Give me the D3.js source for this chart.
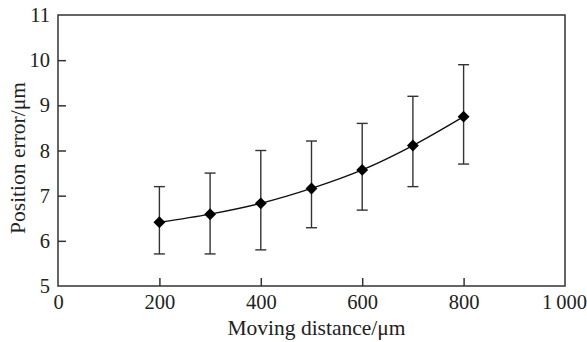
<!doctype html>
<html>
<head>
<meta charset="utf-8">
<script src="https://d3js.org/d3.v7.min.js"></script>
<style>
  body { margin: 0; background: #fff; }
  text { font-family: "Liberation Serif", "DejaVu Serif", serif; fill: #222; }
</style>
</head>
<body>
<div id="chart"></div>
<script>
// data
var distance = [200, 300, 400, 500, 600, 700, 800];
var meanErr  = [6.41, 6.59, 6.83, 7.16, 7.57, 8.11, 8.75];
var upperErr = [7.2, 7.5, 8.0, 8.21, 8.6, 9.2, 9.9];
var lowerErr = [5.71, 5.71, 5.8, 6.29, 6.68, 7.2, 7.7];
var xTicks = [0, 200, 400, 600, 800, 1000];
var yTicks = [5, 6, 7, 8, 9, 10, 11];

var W = 587, H = 342;
var margin = {top: 15, right: 22, bottom: 56, left: 58},
    width = W - margin.left - margin.right,
    height = H - margin.top - margin.bottom;

var svg = d3.select("#chart").append("svg")
    .attr("width", W).attr("height", H)
  .append("g")
    .attr("transform", "translate(" + margin.left + "," + margin.top + ")");

var x = d3.scaleLinear().domain([0, 1000]).range([0, width]);
var y = d3.scaleLinear().domain([5, 11]).range([height, 0]);

var fmtX = function(d){ return d === 1000 ? "1\u2009000" : String(d); };
var fmtY = function(d){ return String(d); };

// x axis, ticks pointing inward
var gx = svg.append("g")
    .attr("transform", "translate(0," + height + ")")
    .call(d3.axisBottom(x).tickValues(xTicks).tickSizeInner(-8).tickSizeOuter(0).tickPadding(8).tickFormat(fmtX));
gx.selectAll("text").style("font-size", "20.5px");
gx.selectAll(".tick").filter(function(d){ return d === 1000; }).select("text").attr("dx", -1);

var gy = svg.append("g")
    .call(d3.axisLeft(y).tickValues(yTicks).tickSizeInner(-8).tickSizeOuter(0).tickPadding(8).tickFormat(fmtY));
gy.selectAll("text").style("font-size", "20.5px");

[gx, gy].forEach(function(g){
  g.select(".domain").remove();
  g.selectAll("line").attr("stroke", "#333").attr("stroke-width", 1.5);
  g.selectAll(".tick").filter(function(d){ return d === 0 || d === 1000 || d === 5 || d === 11; })
    .select("line").remove();
});

// frame
svg.append("rect")
    .attr("x", 0).attr("y", 0).attr("width", width).attr("height", height)
    .attr("fill", "none").attr("stroke", "#333").attr("stroke-width", 1.5);

var pts = distance.map(function(d, i){
  return {x: d, m: meanErr[i], hi: upperErr[i], lo: lowerErr[i]};
});

// error bars
var eb = svg.append("g").attr("stroke", "#333").attr("stroke-width", 1.4);
pts.forEach(function(p){
  eb.append("line").attr("x1", x(p.x)).attr("x2", x(p.x)).attr("y1", y(p.hi)).attr("y2", y(p.lo));
  eb.append("line").attr("x1", x(p.x) - 5.5).attr("x2", x(p.x) + 5.5).attr("y1", y(p.hi)).attr("y2", y(p.hi));
  eb.append("line").attr("x1", x(p.x) - 5.5).attr("x2", x(p.x) + 5.5).attr("y1", y(p.lo)).attr("y2", y(p.lo));
});

// curve
svg.append("path")
    .datum(pts)
    .attr("fill", "none").attr("stroke", "#111").attr("stroke-width", 1.4)
    .attr("d", d3.line().curve(d3.curveMonotoneX)
      .x(function(d){ return x(d.x); }).y(function(d){ return y(d.m); }));

// diamond markers
svg.append("g").selectAll("path.mk")
  .data(pts).enter().append("path")
    .attr("class", "mk")
    .attr("d", d3.symbol().type(d3.symbolDiamond2).size(90))
    .attr("transform", function(d){ return "translate(" + x(d.x) + "," + y(d.m) + ")"; })
    .attr("fill", "#000");

// axis titles
svg.append("text")
    .attr("x", width / 2 + 5).attr("y", height + 49)
    .attr("text-anchor", "middle").style("font-size", "21.5px")
    .text("Moving distance/\u03bcm");

svg.append("text")
    .attr("transform", "rotate(-90)")
    .attr("x", -143).attr("y", -33)
    .attr("text-anchor", "middle").style("font-size", "21.5px")
    .text("Position error/\u03bcm");
</script>
</body>
</html>
